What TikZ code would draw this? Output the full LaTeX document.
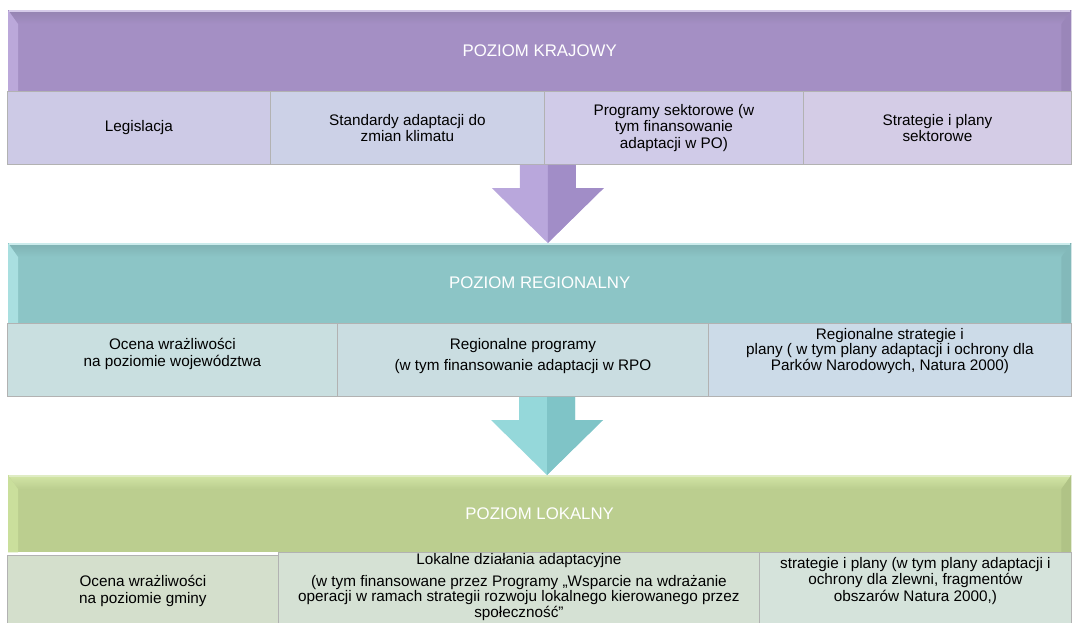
\documentclass[tikz,border=0pt]{standalone}
\usepackage{fontspec}
\setmainfont{Liberation Sans}
\usetikzlibrary{calc}

\definecolor{krajMain}{HTML}{A48FC4}
\definecolor{krajTop}{HTML}{9483B0}
\definecolor{krajLeft}{HTML}{BBA8DA}
\definecolor{krajRight}{HTML}{9A86B9}
\definecolor{regMain}{HTML}{8CC5C6}
\definecolor{regTop}{HTML}{7FB1B2}
\definecolor{regLeft}{HTML}{A9DFE0}
\definecolor{regRight}{HTML}{83B9BA}
\definecolor{lokMain}{HTML}{BBCE8F}
\definecolor{lokTop}{HTML}{D3E6A6}
\definecolor{lokLeft}{HTML}{CADF9C}
\definecolor{lokRight}{HTML}{B0C386}
\definecolor{kcA}{HTML}{CDCAE6}
\definecolor{kcB}{HTML}{CCD1E7}
\definecolor{kcC}{HTML}{D0CBE8}
\definecolor{kcD}{HTML}{D4CCE6}
\definecolor{rcA}{HTML}{C9DFE0}
\definecolor{rcB}{HTML}{CADDE1}
\definecolor{rcC}{HTML}{CCDBE8}
\definecolor{lcA}{HTML}{D4DFCC}
\definecolor{lcB}{HTML}{D5E1D4}
\definecolor{lcC}{HTML}{D5E3DB}
\definecolor{arrPurple}{HTML}{B9A7DC}
\definecolor{arrPurpleDk}{HTML}{A18DC7}
\definecolor{arrTeal}{HTML}{95D8DA}
\definecolor{arrTealDk}{HTML}{7FC4C7}

% bevel edges of a level header
\newcommand{\headbevel}[5]{%
  \shade[top color=#2, bottom color=#5] (#1.north west) -- (#1.north east)
    -- ($(#1.north east)+(-10,14)$) -- ($(#1.north west)+(10,14)$) -- cycle;
  \fill[#3] (#1.north west) -- ($(#1.north west)+(10,14)$) -- ($(#1.south west)+(10,0)$) -- (#1.south west) -- cycle;
  \fill[#4] (#1.north east) -- ($(#1.north east)+(-10,14)$) -- ($(#1.south east)+(-10,0)$) -- (#1.south east) -- cycle;
  \draw[#3!60!white, line width=1.5pt] ($(#1.north west)+(1,1)$) -- ($(#1.north east)+(-1,1)$);
}
% block arrow between two levels
\newcommand{\levelarrow}[4]{%
  \fill[#3] ($(#1)+(-28,0)$) -- ($(#1)+(28,0)$) -- ($(#2)+(28,-55)$) -- ($(#2)+(56,-55)$)
    -- (#2) -- ($(#2)+(-56,-55)$) -- ($(#2)+(-28,-55)$) -- cycle;
  \fill[#4] (#1) -- ($(#1)+(28,0)$) -- ($(#2)+(28,-55)$) -- ($(#2)+(56,-55)$) -- (#2) -- cycle;
}

\begin{document}
\begin{tikzpicture}[x=1pt,y=-1pt,
  head/.style={anchor=north west, inner sep=0pt, minimum width=1063pt, text=white,
    font=\fontsize{16.8}{19}\selectfont},
  cell/.style={anchor=north west, inner xsep=3pt, inner ysep=0pt, align=center,
    draw=black!30, line width=0.8pt, font=\fontsize{15.3}{16.5}\selectfont}]
\useasboundingbox (0,0) rectangle (1072,622);

% poziom krajowy
\node[head, fill=krajMain, minimum height=81pt] (kraj) at (8,10) {POZIOM KRAJOWY};
\headbevel{kraj}{krajTop}{krajLeft}{krajRight}{krajMain}
\node[cell, fill=kcA, minimum width=263pt, minimum height=73pt] (legis) at (7,91) {Legislacja};
\node[cell, fill=kcB, minimum width=274pt, minimum height=73pt] (stand) at (270,91) {Standardy adaptacji do\\zmian klimatu};
\node[cell, fill=kcC, minimum width=259pt, minimum height=73pt] (progsek) at (544,91) {Programy sektorowe (w\\tym finansowanie\\adaptacji w PO)};
\node[cell, fill=kcD, minimum width=268pt, minimum height=73pt] (stratsek) at (803,91) {Strategie i plany\\sektorowe};

% poziom regionalny
\node[head, fill=regMain, minimum height=80pt] (reg) at (8,243) {POZIOM REGIONALNY};
\headbevel{reg}{regTop}{regLeft}{regRight}{regMain}
\node[cell, fill=rcA, minimum width=330pt, text height=43pt, text depth=30pt] (ocenareg) at (7,323) {Ocena wrażliwości\\na poziomie województwa};
\node[cell, fill=rcB, minimum width=371pt, text height=47pt, text depth=26pt] (progreg) at (337,323) {Regionalne programy\\[4pt](w tym finansowanie adaptacji w RPO};
\node[cell, fill=rcC, minimum width=363pt, text height=47pt, text depth=26pt,
  font=\fontsize{15.3}{15.5}\selectfont] (stratreg) at (708,323) {Regionalne strategie i\\plany ( w tym plany adaptacji i ochrony dla\\Parków Narodowych, Natura 2000)};

% poziom lokalny
\node[head, fill=lokMain, minimum height=77pt] (lok) at (8,475) {POZIOM LOKALNY};
\headbevel{lok}{lokTop}{lokLeft}{lokRight}{lokMain}
\node[cell, fill=lcA, minimum width=271pt, text height=48pt, text depth=27pt] (ocenalok) at (7,555) {Ocena wrażliwości\\na poziomie gminy};
\node[cell, fill=lcB, minimum width=481pt, text height=65pt, text depth=13pt,
  font=\fontsize{15.3}{15.5}\selectfont] (dzialok) at (278,552) {Lokalne działania adaptacyjne\\[6pt](w tym finansowane przez Programy „Wsparcie na wdrażanie\\operacji w ramach strategii rozwoju lokalnego kierowanego przez\\społeczność”};
\node[cell, fill=lcC, minimum width=312pt, text height=49pt, text depth=29pt] (stratlok) at (759,552) {strategie i plany (w tym plany adaptacji i\\ochrony dla zlewni, fragmentów\\obszarów Natura 2000,)};

% strzalki
\coordinate (s1) at ($(stand.south east)+(3,0)$);
\coordinate (s2) at ($(progreg.south west)+(210,0)$);
\levelarrow{s1}{reg.north -| s1}{arrPurple}{arrPurpleDk}
\levelarrow{s2}{lok.north -| s2}{arrTeal}{arrTealDk}
\end{tikzpicture}
\end{document}
